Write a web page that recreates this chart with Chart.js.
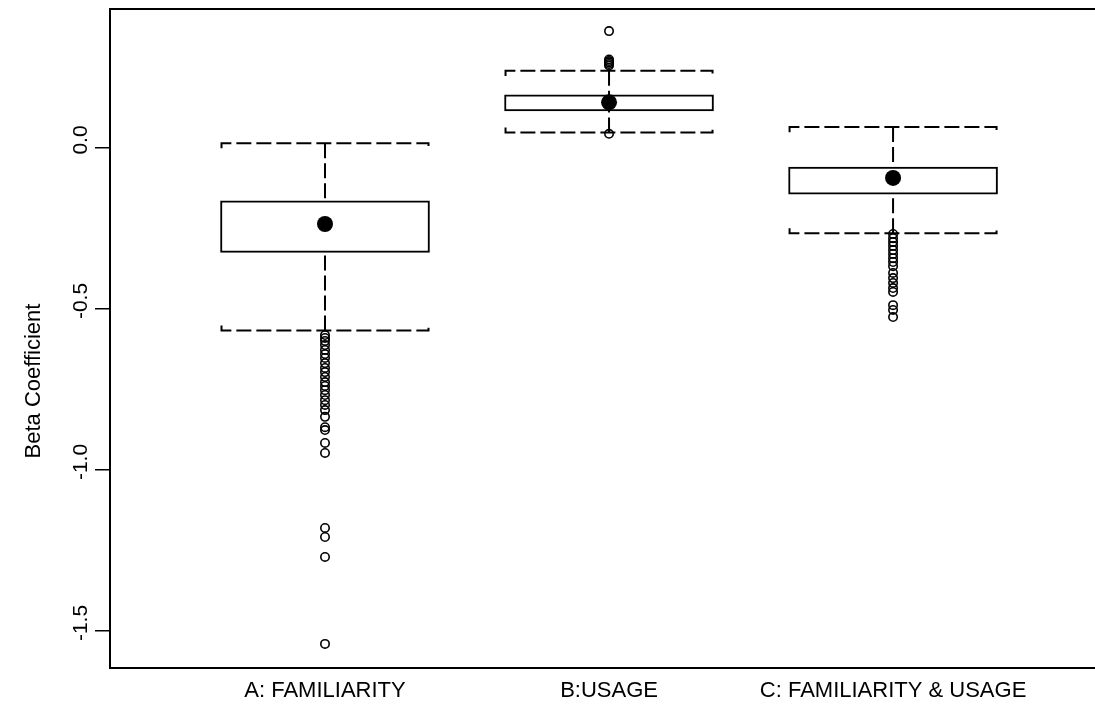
<!DOCTYPE html>
<html><head><meta charset="utf-8">
<script src="https://cdn.jsdelivr.net/npm/chart.js@4/dist/chart.umd.min.js"></script>
<style>html,body{margin:0;padding:0;background:#fff;overflow:hidden}canvas{display:block}</style>
</head><body>
<canvas id="c" width="1095" height="709"></canvas>
<script>
// ---- data ----
const categories = ['A: FAMILIARITY', 'B:USAGE', 'C: FAMILIARITY & USAGE'];
const categoryPositions = [1, 2, 3];
const boxLow = [-0.324, 0.115, -0.143];
const boxHigh = [-0.164, 0.165, -0.059];
const whiskerLow = [-0.567, 0.048, -0.265];
const whiskerHigh = [0.015, 0.240, 0.065];
const means = [-0.236, 0.142, -0.093];
const outliersA = [-0.581, -0.590, -0.599, -0.612, -0.627, -0.640, -0.652, -0.668, -0.683, -0.696,
  -0.711, -0.727, -0.739, -0.752, -0.767, -0.783, -0.798, -0.814, -0.835, -0.867, -0.876, -0.916,
  -0.947, -1.180, -1.208, -1.270, -1.540];
const outliersB = [0.363, 0.275, 0.270, 0.266, 0.261, 0.256, 0.044];
const outliersC = [-0.267, -0.280, -0.292, -0.304, -0.317, -0.329, -0.342, -0.354, -0.367, -0.388,
  -0.404, -0.419, -0.435, -0.447, -0.488, -0.503, -0.525];
const yTicks = [0, -0.5, -1, -1.5];
const yTickLabels = ['0.0', '-0.5', '-1.0', '-1.5'];
const yTitle = 'Beta Coefficient';

// ---- layout / style ----
const FONT = '"Liberation Sans", Arial, Helvetica, sans-serif';
const FS_TICK = 21, FS_LABEL = 22;
const xMin = 0.243, xMax = 3.711;
const yMin = -1.6149, yMax = 0.4317;
const capHalf = 0.3644;
const hook = 0.016;

Chart.defaults.font.family = FONT;
Chart.defaults.color = '#000';

const boxData = categoryPositions.map((x, i) => ({ x, y: [boxLow[i], boxHigh[i]] }));
const whiskerData = [];
categoryPositions.forEach((x, i) => {
  whiskerData.push({ x, y: whiskerHigh[i] }, { x, y: boxHigh[i] }, { x, y: null });
  whiskerData.push({ x, y: whiskerLow[i] }, { x, y: boxLow[i] }, { x, y: null });
  whiskerData.push({ x: x - capHalf, y: whiskerHigh[i] - hook }, { x: x - capHalf, y: whiskerHigh[i] },
    { x: x + capHalf, y: whiskerHigh[i] }, { x: x + capHalf, y: whiskerHigh[i] - hook }, { x, y: null });
  whiskerData.push({ x: x - capHalf, y: whiskerLow[i] + hook }, { x: x - capHalf, y: whiskerLow[i] },
    { x: x + capHalf, y: whiskerLow[i] }, { x: x + capHalf, y: whiskerLow[i] + hook }, { x, y: null });
});
const outlierSets = [outliersA, outliersB, outliersC];
const outlierData = [];
outlierSets.forEach((arr, i) => arr.forEach(y => outlierData.push({ x: categoryPositions[i], y })));
const meanData = categoryPositions.map((x, i) => ({ x, y: means[i] }));

const framePlugin = {
  id: 'frame',
  afterDraw(chart) {
    const { ctx, chartArea: a } = chart;
    ctx.save();
    ctx.strokeStyle = '#000';
    ctx.lineWidth = 2;
    ctx.beginPath();
    ctx.moveTo(chart.width + 5, a.top);
    ctx.lineTo(a.left, a.top);
    ctx.lineTo(a.left, a.bottom);
    ctx.lineTo(chart.width + 5, a.bottom);
    ctx.stroke();
    ctx.restore();
  }
};
const titlePlugin = {
  id: 'ytitle',
  afterDraw(chart) {
    const { ctx } = chart;
    ctx.save();
    ctx.fillStyle = '#000';
    ctx.font = FS_LABEL + 'px ' + FONT;
    ctx.textAlign = 'center';
    ctx.textBaseline = 'middle';
    ctx.translate(34, 381);
    ctx.rotate(-Math.PI / 2);
    ctx.fillText(yTitle, 0, 0);
    ctx.restore();
  }
};

new Chart(document.getElementById('c'), {
  type: 'scatter',
  data: {
    datasets: [
      { type: 'bar', data: boxData, backgroundColor: '#fff', borderColor: '#000', borderWidth: 2,
        borderSkipped: false, barThickness: 209, order: 4 },
      { type: 'line', data: whiskerData, borderColor: '#000', borderWidth: 2, borderDash: [15, 5],
        pointRadius: 0, spanGaps: false, fill: false, order: 3 },
      { type: 'scatter', data: outlierData, pointRadius: 4.2, borderWidth: 1.6, borderColor: '#000',
        backgroundColor: 'rgba(0,0,0,0)', pointStyle: 'circle', order: 2 },
      { type: 'scatter', data: meanData, pointRadius: 8, borderWidth: 0, backgroundColor: '#000',
        pointStyle: 'circle', order: 1 }
    ]
  },
  options: {
    responsive: false,
    animation: false,
    devicePixelRatio: 1,
    layout: { autoPadding: false, padding: { top: 9, left: 0, right: 0, bottom: 0 } },
    plugins: { legend: { display: false }, tooltip: { enabled: false } },
    scales: {
      x: {
        type: 'linear', min: xMin, max: xMax, offset: false,
        grid: { display: false, drawTicks: false, tickLength: 0 },
        border: { display: false },
        afterBuildTicks: s => { s.ticks = categoryPositions.map(v => ({ value: v })); },
        afterFit: s => { s.height = 41; s.paddingLeft = 0; s.paddingRight = 0; },
        ticks: {
          autoSkip: false, minRotation: 0, maxRotation: 0, padding: 10, color: '#000',
          font: { size: FS_LABEL },
          callback: v => { const i = categoryPositions.indexOf(v); return i >= 0 ? categories[i] : ''; }
        }
      },
      y: {
        type: 'linear', min: yMin, max: yMax,
        grid: { display: true, drawOnChartArea: false, drawTicks: true, tickLength: 15, color: '#000', lineWidth: 1.5 },
        border: { display: false },
        afterBuildTicks: s => { s.ticks = yTicks.map(v => ({ value: v })); },
        afterFit: s => { s.width = 110; s.paddingTop = 0; s.paddingBottom = 0; },
        ticks: {
          autoSkip: false, minRotation: 90, maxRotation: 90, crossAlign: 'center', padding: -4,
          labelOffset: -8, color: '#000',
          font: { size: FS_TICK },
          callback: v => { const i = yTicks.indexOf(v); return i >= 0 ? yTickLabels[i] : ''; }
        }
      }
    }
  },
  plugins: [framePlugin, titlePlugin]
});
</script>
</body></html>
